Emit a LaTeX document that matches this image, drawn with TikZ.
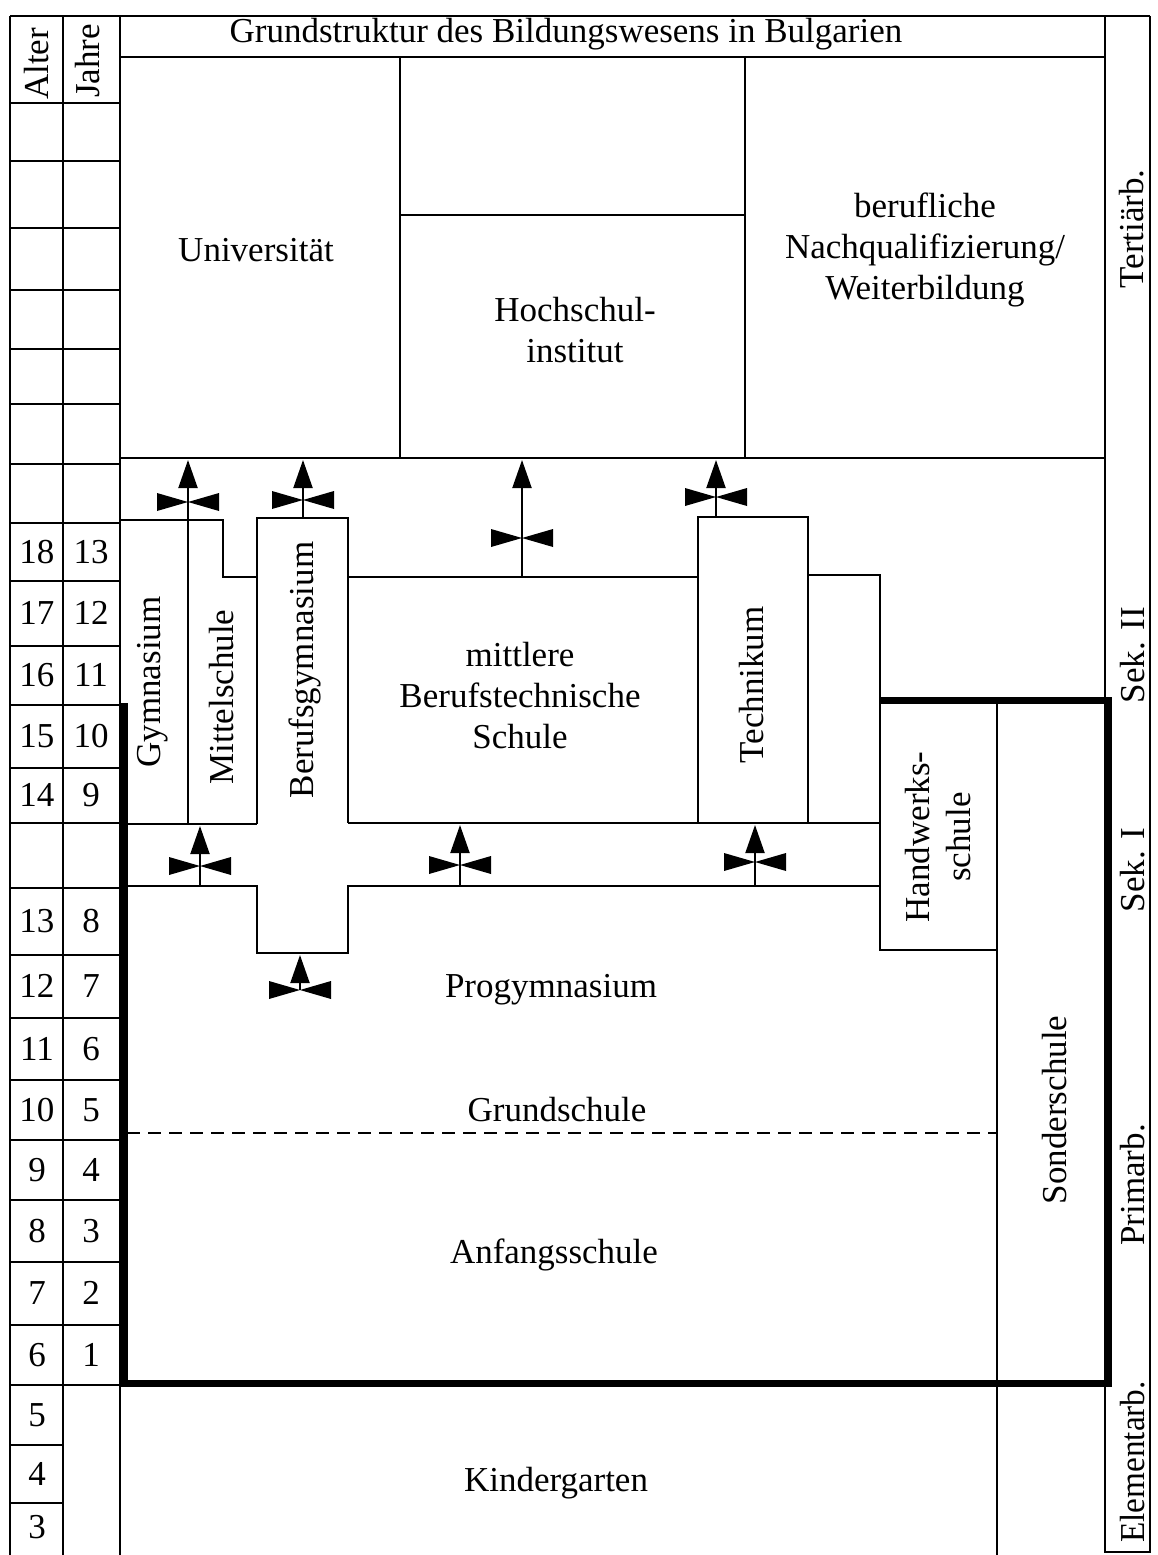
\documentclass[tikz,border=0pt]{standalone}
\usepackage{fontspec}
\setmainfont{Liberation Serif}
\usetikzlibrary{arrows.meta}

\tikzset{lbl/.style={font=\fontsize{35}{41}\selectfont, align=center, inner sep=0pt}}
\tikzset{vlbl/.style={lbl, rotate=90}}
\tikzset{rule/.style={line width=2pt}}
\tikzset{heavy/.style={line width=7pt, line join=miter}}
\tikzset{up/.style={line width=2pt, -{Triangle[width=19pt, length=28pt]}}}
\tikzset{bowtie/.pic={\fill (-31,-9) -- (0,0) -- (-31,9) -- cycle (31,-9) -- (0,0) -- (31,9) -- cycle;}}

\begin{document}
\begin{tikzpicture}[x=1pt, y=-1pt]
    \useasboundingbox (0,0) rectangle (1157,1555);

    \draw[rule] (10,16) -- (1150,16);
    \draw[rule] (10,16) -- (10,1555);
    \draw[rule] (63,16) -- (63,1555);
    \draw[rule] (120,16) -- (120,1555);
    \draw[rule] (1105,16) -- (1105,1553);
    \draw[rule] (1150,16) -- (1150,1553);
    \draw[rule] (1105,1552) -- (1150,1552);

    \draw[rule] (120,57) -- (1105,57);
    \draw[rule] (120,458) -- (1105,458);
    \draw[rule] (400,57) -- (400,458);
    \draw[rule] (745,57) -- (745,458);
    \draw[rule] (400,215) -- (745,215);

    \foreach \y in {103,161,228,290,349,404,464,523,581,646,705,768,823,888,955,1018,1080,1140,1200,1262,1325,1385}
        \draw[rule] (10,\y) -- (120,\y);
    \foreach \y in {1445,1503}
        \draw[rule] (10,\y) -- (63,\y);

    \draw[rule] (120,520) -- (223,520) -- (223,577) -- (257,577);
    \draw[rule] (188,520) -- (188,824);
    \draw[rule] (120,824) -- (257,824);
    \draw[rule] (257,824) -- (257,518) -- (348,518) -- (348,823);
    \draw[rule] (348,577) -- (698,577);
    \draw[rule] (348,823) -- (880,823);
    \draw[rule] (698,823) -- (698,517) -- (808,517) -- (808,823);
    \draw[rule] (808,575) -- (880,575) -- (880,950) -- (997,950);
    \draw[rule] (997,700) -- (997,1555);
    \draw[rule] (120,886) -- (257,886) -- (257,953) -- (348,953) -- (348,886) -- (880,886);
    \draw[rule, dash pattern=on 13pt off 8pt] (127,1133) -- (997,1133);

    \draw[heavy] (124,703) -- (124,1383) -- (1108,1383) -- (1108,700) -- (880,700);

    \foreach \x/\ya/\yb/\yv [count=\i] in {188/520/460/502, 303/518/460/500, 522/577/460/538, 716/517/460/497, 200/886/826/866, 460/886/825/865, 755/886/825/862, 300/990/955/990}{
        \coordinate (v\i s) at (\x,\ya);
        \coordinate (v\i t) at (\x,\yb);
        \draw[up] (v\i s) -- (v\i t);
        \pic at (\x,\yv) {bowtie};
    }

    \node[lbl] (title) at (566,34) {Grundstruktur des Bildungswesens in Bulgarien};
    \node[vlbl] (alter) at (37,64) {Alter};
    \node[vlbl] (jahre) at (88,61) {Jahre};

    \foreach \a/\j/\y in {18/13/552, 17/12/613, 16/11/675, 15/10/736, 14/9/795, 13/8/921, 12/7/986, 11/6/1049, 10/5/1110, 9/4/1170, 8/3/1231, 7/2/1293, 6/1/1355}{
        \node[lbl] (a\a) at (37,\y) {\a};
        \node[lbl] (j\j) at (91,\y) {\j};
    }
    \foreach \a/\y in {5/1415, 4/1474, 3/1527}
        \node[lbl] (a\a) at (37,\y) {\a};

    \node[lbl] (uni) at (256,250) {Universität};
    \node[lbl] (hsi) at (575,330) {Hochschul-\\institut};
    \node[lbl] (weiter) at (925,250) {berufliche\\Nachqualifizierung/\\Weiterbildung};

    \node[vlbl] (gym) at (153,682) {Gymnasium};
    \node[vlbl] (mittel) at (222,697) {Mittelschule};
    \node[vlbl] (berufsgym) at (305,670) {Berufsgymnasium};
    \node[lbl] (mbts) at (520,696) {mittlere\\Berufstechnische\\Schule};
    \node[vlbl] (technikum) at (752,685) {Technikum};
    \node[vlbl] (handwerk) at (938,837) {Handwerks-\\schule};
    \node[vlbl] (sonder) at (1055,1110) {Sonderschule};

    \node[lbl] (progym) at (551,990) {Progymnasium};
    \node[lbl] (grund) at (557,1110) {Grundschule};
    \node[lbl] (anfang) at (554,1255) {Anfangsschule};
    \node[lbl] (kiga) at (556,1483) {Kindergarten};

    \node[vlbl] (tert) at (1132,229) {Tertiärb.};
    \node[vlbl] (sek2) at (1133,655) {Sek. II};
    \node[vlbl] (sek1) at (1133,870) {Sek. I};
    \node[vlbl] (prim) at (1133,1185) {Primarb.};
    \node[vlbl, xscale=0.95] (elem) at (1133,1462) {Elementarb.};
\end{tikzpicture}
\end{document}
